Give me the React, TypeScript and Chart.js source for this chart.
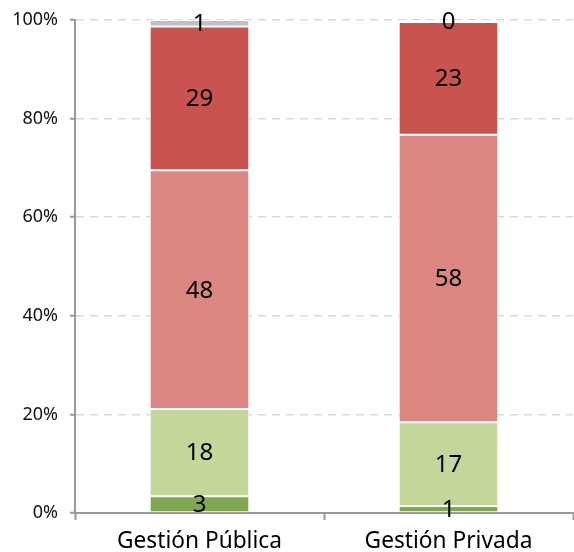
import React, { useEffect, useRef } from "react";
import { Chart, registerables } from "chart.js";

Chart.register(...registerables);

const categories = ["Gestión Pública", "Gestión Privada"];
const seriesNames = ["S1", "S2", "S3", "S4", "S5"];
const darkGreen = [3.4, 1.4];
const lightGreen = [17.7, 17.0];
const pink = [48.4, 58.3];
const red = [29.2, 22.9];
const grayTop = [1.3, 0.4];
const yTicks = [0, 20, 40, 60, 80, 100];

const colors = ["#7ea852", "#c4d79b", "#da8782", "#c9534f", "#c0c0c0"];
const FONT = "'Noto Sans', 'Open Sans', sans-serif";

const labelPlugin = {
  id: "segLabels",
  afterDatasetsDraw(chart: any) {
    const ctx = chart.ctx;
    ctx.save();
    ctx.font = `24px ${FONT}`;
    ctx.fillStyle = "#000";
    ctx.textAlign = "center";
    ctx.textBaseline = "middle";
    chart.data.datasets.forEach((ds: any, i: number) => {
      const meta = chart.getDatasetMeta(i);
      meta.data.forEach((el: any, j: number) => {
        const { x, y, base } = el.getProps(["x", "y", "base"], true);
        const v = ds.data[j];
        ctx.fillText(String(Math.round(v)), x, (y + base) / 2 + 1);
      });
    });
    ctx.restore();
  },
};

export default function App() {
  const ref = useRef<HTMLCanvasElement>(null);
  useEffect(() => {
    const series = [darkGreen, lightGreen, pink, red, grayTop];
    const chart = new Chart(ref.current!, {
      type: "bar",
      data: {
        labels: categories,
        datasets: series.map((d, i) => ({
          label: seriesNames[i],
          data: d,
          backgroundColor: colors[i],
          borderColor: "#ffffff",
          borderWidth: 1,
          borderSkipped: false,
          barPercentage: 0.4,
          categoryPercentage: 1,
        })),
      },
      options: {
        animation: false,
        responsive: false,
        maintainAspectRatio: false,
        layout: { padding: { top: 20, right: 1, left: 0, bottom: 0 } },
        plugins: { legend: { display: false }, tooltip: { enabled: false } },
        scales: {
          x: {
            stacked: true,
            grid: {
              display: true,
              drawOnChartArea: false,
              drawTicks: true,
              tickLength: 7,
              tickColor: "#999999",
              tickWidth: 2,
              offset: true,
            },
            border: { display: true, color: "#999999", width: 2 },
            ticks: {
              color: "#000",
              font: { family: FONT, size: 22.7 },
              padding: 8,
            },
            afterFit: (s: any) => {
              s.height = 39;
              s.paddingLeft = 0;
              s.paddingRight = 0;
            },
          },
          y: {
            stacked: true,
            min: 0,
            max: 100,
            afterBuildTicks: (s: any) => {
              s.ticks = yTicks.map((v) => ({ value: v }));
            },
            grid: {
              color: "#d9d9d9",
              lineWidth: 1.5,
              drawTicks: true,
              tickLength: 5,
              tickColor: "#999999",
              tickWidth: 2,
              tickBorderDash: [],
            },
            border: { display: true, color: "#999999", width: 2, dash: [8, 6] },
            ticks: {
              color: "#111",
              font: { family: FONT, size: 18 },
              padding: 12,
              callback: (v: any) => `${v}%`,
            },
            afterFit: (s: any) => {
              s.width = 75;
              s.paddingTop = 0;
              s.paddingBottom = 0;
            },
          },
        },
      },
      plugins: [labelPlugin],
    });
    return () => chart.destroy();
  }, []);
  return (
    <div style={{ position: "fixed", left: 0, top: 0, width: 574, height: 552, background: "#fff" }}>
      <canvas ref={ref} width={574} height={552} style={{ width: 574, height: 552 }} />
    </div>
  );
}
